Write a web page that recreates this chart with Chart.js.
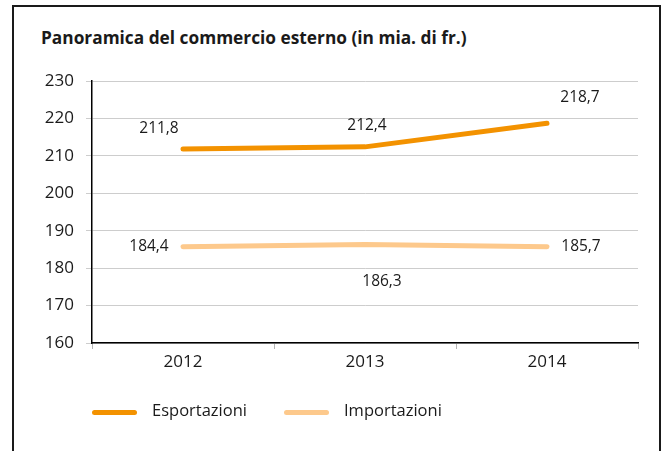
<!DOCTYPE html>
<html>
<head>
<meta charset="utf-8">
<script src="https://cdn.jsdelivr.net/npm/chart.js@4"></script>
<style>
  html, body { margin: 0; padding: 0; background: #fff; }
  body { width: 662px; height: 451px; position: relative; overflow: hidden; font-family: "Open Sans", sans-serif; color: #1a1a1a; }
  #frame { position: absolute; left: 12px; top: 5px; width: 649px; height: 460px; box-sizing: border-box;
           border: 2px solid #1a1a1a; border-bottom: none; }
  #title { position: absolute; left: 41px; top: 29px; font-size: 17.3px; line-height: 17px; font-weight: bold; white-space: nowrap; }
  #c { position: absolute; left: 0; top: 0; }
  .swatch { position: absolute; top: 410px; width: 45px; height: 5px; border-radius: 3px; }
  .legtext { position: absolute; top: 402px; font-size: 16.5px; line-height: 16.5px; white-space: nowrap; }
</style>
</head>
<body>
<div id="frame"></div>
<div id="title">Panoramica del commercio esterno (in mia. di fr.)</div>
<canvas id="c" width="662" height="451"></canvas>
<div class="swatch" id="sw-exp" style="left:92px"></div>
<div class="legtext" id="lt-exp" style="left:152px"></div>
<div class="swatch" id="sw-imp" style="left:284px"></div>
<div class="legtext" id="lt-imp" style="left:344px"></div>
<script>
// values
const years = ['2012', '2013', '2014'];
const exportValues = [211.8, 212.4, 218.7];
const importValues = [185.7, 186.3, 185.7];   // where the line is drawn
const exportLabels = ['211,8', '212,4', '218,7'];
const importLabels = ['184,4', '186,3', '185,7']; // printed labels (2012 differs from the line)
const seriesNames = ['Esportazioni', 'Importazioni'];
const yMin = 160, yMax = 230, yStep = 10;

const EXP_COLOR = '#f39200';
const IMP_COLOR = '#fdc98c';
const TEXT = '#1a1a1a';

// label offsets from each point, px
const labelOffsets = [
    [[-24, -21], [2, -21], [33, -26]],
    [[-34, 0], [17, 37], [34, 0]]
];

const pointLabels = {
    id: 'pointLabels',
    afterDatasetsDraw(chart) {
        const ctx = chart.ctx;
        ctx.save();
        ctx.font = '15.5px "Open Sans"';
        ctx.fillStyle = TEXT;
        ctx.textAlign = 'center';
        ctx.textBaseline = 'middle';
        chart.data.datasets.forEach((ds, i) => {
            chart.getDatasetMeta(i).data.forEach((pt, j) => {
                const off = labelOffsets[i][j];
                ctx.fillText(ds.valueLabels[j], pt.x + off[0], pt.y + off[1]);
            });
        });
        ctx.restore();
    }
};

const tickFont = { family: 'Open Sans', size: 17 };

new Chart(document.getElementById('c'), {
    type: 'line',
    data: {
        labels: years,
        datasets: [{
            label: seriesNames[0],
            data: exportValues,
            valueLabels: exportLabels,
            borderColor: EXP_COLOR,
            backgroundColor: EXP_COLOR,
            borderWidth: 5,
            borderCapStyle: 'round',
            borderJoinStyle: 'round',
            pointRadius: 0,
            tension: 0,
        }, {
            label: seriesNames[1],
            data: importValues,
            valueLabels: importLabels,
            borderColor: IMP_COLOR,
            backgroundColor: IMP_COLOR,
            borderWidth: 5,
            borderCapStyle: 'round',
            borderJoinStyle: 'round',
            pointRadius: 0,
            tension: 0,
        }]
    },
    options: {
        responsive: false,
        devicePixelRatio: 1,
        animation: false,
        layout: { padding: { left: 0, top: 81, right: 24, bottom: 0 } },
        plugins: {
            legend: { display: false },
            title: { display: false },
            tooltip: { enabled: false }
        },
        scales: {
            x: {
                offset: true,
                grid: { display: true, drawOnChartArea: false, drawTicks: true, tickLength: 6, offset: true, color: '#b4b4b4' },
                border: { display: true, color: '#000', width: 1.5 },
                ticks: { color: TEXT, font: tickFont, padding: 3 },
                afterFit: (s) => { s.height = 108; }
            },
            y: {
                min: yMin,
                max: yMax,
                grid: { color: '#cdcdcd', tickLength: 6 },
                border: { display: true, color: '#000', width: 1.5 },
                ticks: { stepSize: yStep, color: TEXT, font: tickFont, padding: 12 },
                afterFit: (s) => { s.width = 92; }
            }
        }
    },
    plugins: [pointLabels]
});

document.getElementById('sw-exp').style.background = EXP_COLOR;
document.getElementById('sw-imp').style.background = IMP_COLOR;
document.getElementById('lt-exp').textContent = seriesNames[0];
document.getElementById('lt-imp').textContent = seriesNames[1];
</script>
</body>
</html>
